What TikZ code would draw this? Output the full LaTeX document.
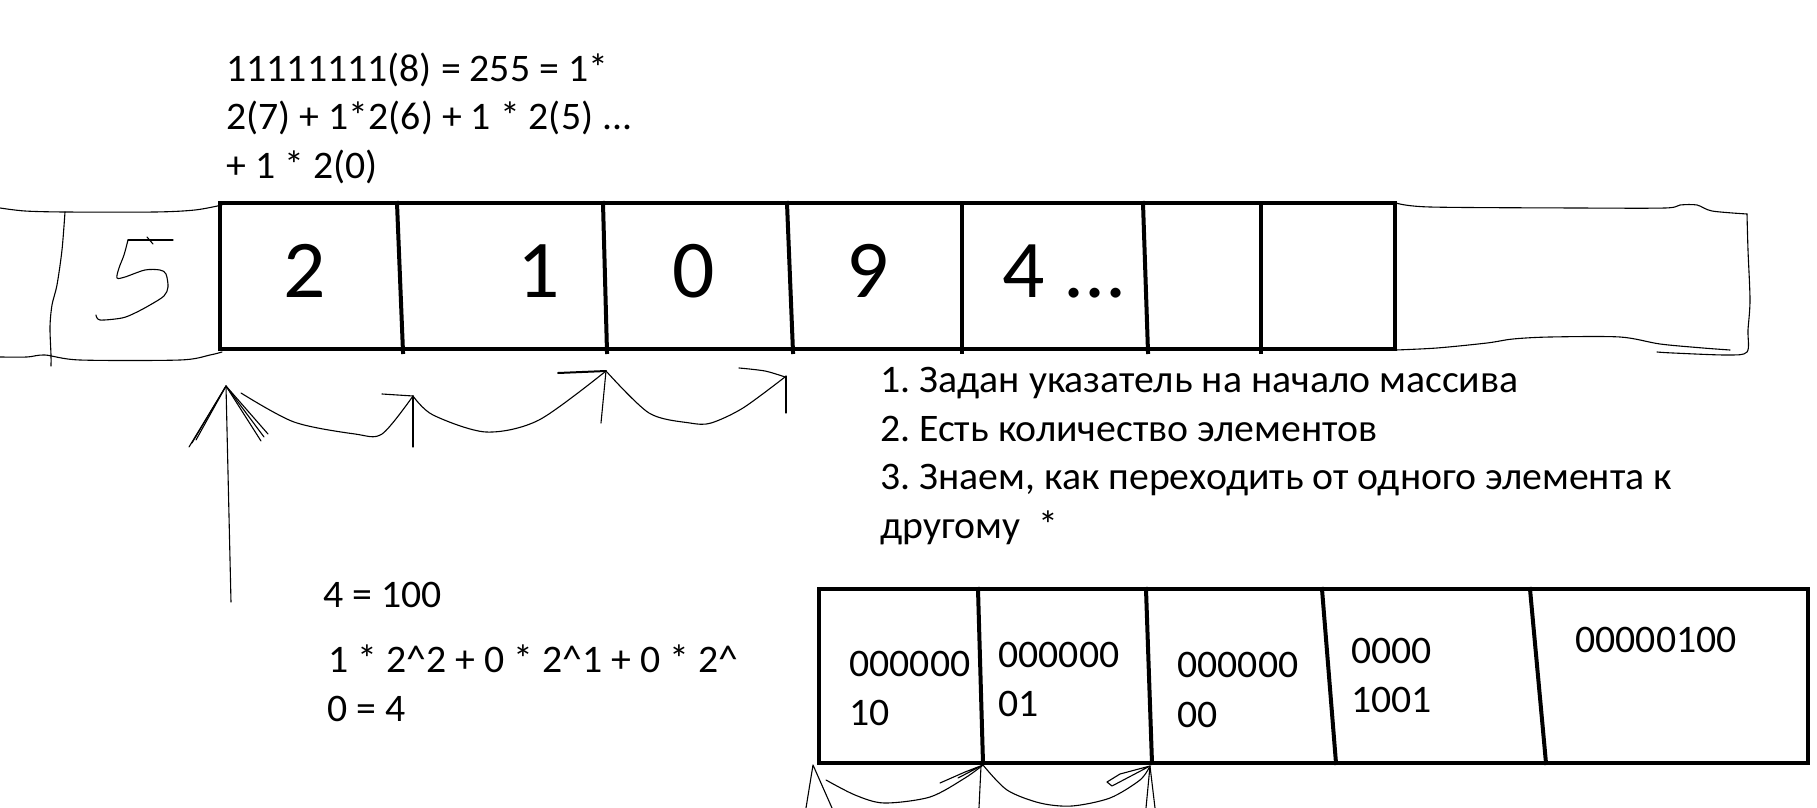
\documentclass[tikz,border=0pt]{standalone}
\usepackage{fontspec}
\setmainfont{Carlito}[FakeStretch=1.02]
\frenchspacing
\begin{document}
\begin{tikzpicture}[
		x=0.5pt, y=-0.5pt,
		cellbox/.style={line width=2pt, line cap=rect},
		pen/.style={line width=0.55pt, line join=round, line cap=round},
		txt/.style={anchor=base west, inner sep=0pt, font=\fontsize{19.5}{24}\selectfont},
		digit/.style={anchor=base, inner sep=0pt, font=\fontsize{41}{41}\selectfont}
	]
  \useasboundingbox (0,0) rectangle (1817,808);
  % hand drawn tube round the array
  \draw[pen] plot[smooth] coordinates {(0,208) (25,211) (65,212) (155,212) (195,210) (222,205)};
  \draw[pen] plot[smooth] coordinates {(0,357) (27,357) (45,355) (80,360) (180,360) (210,355) (222,352)};
  \draw[pen] plot[smooth] coordinates {(65,212) (62,250) (57,285) (52,305) (50,327) (51,355) (51,366)};
  \draw[pen] plot[smooth] coordinates {(1396,203) (1430,207) (1577,208) (1665,208) (1680,205) (1697,205) (1712,211) (1747,214)};
  \draw[pen] plot[smooth] coordinates {(1747,214) (1748,250) (1750,300) (1748,330) (1747,352) (1727,355) (1673,353) (1657,352)};
  \draw[pen] plot[smooth] coordinates {(1396,350) (1437,348) (1487,343) (1513,339) (1550,337) (1620,337) (1660,344) (1703,348) (1730,350)};
  % the hand drawn five
  \draw[pen] (128,240) -- (173,240);
  \draw[pen] (147,237) -- (153,244);
  \draw[pen] plot[smooth] coordinates {(128,240) (124,255) (119,268) (117,278) (125,277) (145,270) (160,270) (166,274) (168,287) (164,296) (150,305) (135,313) (122,318) (100,320) (96,315)};

  % top array
  \draw[cellbox] (220,203) rectangle (1395,349);
  \foreach \t/\b in {397/403, 603/607, 787/793, 962/962, 1143/1148, 1261/1261}
    \draw[cellbox] (\t,203) -- (\b,352);
  \node (d_two) [digit] at (305,297) {2};
  \node (d_one) [digit] at (539,297) {1};
  \node (d_zero) [digit] at (694,297) {0};
  \node (d_nine) [digit] at (868,297) {9};
  \node (d_four) [digit, anchor=base west] at (1002,297) {4 ...};

  % pointer and steps
  \coordinate (p_tip) at (226,386);
  \coordinate (p_tail) at (231,602);
  \coordinate (s_one) at (413,396);
  \coordinate (s_two) at (606,371);
  \coordinate (s_three) at (785,377);
  \draw[pen] (p_tip) -- (p_tail);
  \foreach \lx/\ly/\rx/\ry in {192/443/264/437, 196/440/268/434, 189/447/261/441}
    \draw[pen] (\lx,\ly) -- (p_tip) -- (\rx,\ry);
  \draw[pen] plot[smooth] coordinates {(241,393) (294,422) (355,434) (382,434) (s_one)};
  \draw[pen] (s_one) -- (413,447);
  \draw[pen] (382,394) -- (s_one);
  \draw[pen] plot[smooth] coordinates {(s_one) (433,415) (486,432) (539,420) (s_two)};
  \draw[pen] (s_two) -- (601,423);
  \draw[pen, line width=1pt] (558,373) -- (s_two);
  \draw[pen] plot[smooth] coordinates {(s_two) (649,413) (690,423) (711,423) (743,408) (s_three)};
  \draw[pen] (786,376) -- (786,413);
  \draw[pen] plot[smooth] coordinates {(739,368) (765,371) (s_three)};

  % notes
  \node (sum_a) [txt] at (226,82) {11111111(8) = 255 = 1*};
  \node (sum_b) [txt] at (226,130) {2(7) + 1*2(6) + 1 * 2(5) ...};
  \node (sum_c) [txt] at (226,178) {+ 1 * 2(0)};
  \node (rule_a) [txt] at (880,392) {1. Задан указатель на начало массива};
  \node (rule_b) [txt] at (880,441) {2. Есть количество элементов};
  \node (rule_c) [txt] at (880,489) {3. Знаем, как переходить от одного элемента к};
  \node (rule_d) [txt] at (880,538) {другому~~*};
  \node (bin_a) [txt] at (323,607) {4 = 100};
  \node (bin_b) [txt] at (328,672) {1 * 2\^{}2 + 0 * 2\^{}1 + 0 * 2\^{}};
  \node (bin_c) [txt] at (327,721) {0 = 4};

  % bytes array
  \draw[cellbox] (819,589) rectangle (1808,763);
  \foreach \t/\b in {978/983, 1146/1152, 1322/1336, 1530/1546}
    \draw[cellbox] (\t,589) -- (\b,763);
  \node (b_one) [txt] at (849,676) {000000};
  \node (b_one_lo) [txt] at (849,725) {10};
  \node (b_two) [txt] at (998,667) {000000};
  \node (b_two_lo) [txt] at (998,716) {01};
  \node (b_three) [txt] at (1177,677) {000000};
  \node (b_three_lo) [txt] at (1177,727) {00};
  \node (b_four) [txt] at (1351,663) {0000};
  \node (b_four_lo) [txt] at (1351,712) {1001};
  \node (b_five) [txt] at (1575,652) {00000100};

  % steps under the bytes
  \coordinate (q_start) at (813,765);
  \coordinate (q_one) at (983,765);
  \coordinate (q_two) at (1150,766);
  \draw[pen] (806,808) -- (q_start) -- (832,808);
  \draw[pen] plot[smooth] coordinates {(826,780) (855,795) (884,803) (930,797) (965,778) (q_one)};
  \draw[pen] (981,766) -- (979,808);
  \draw[pen] (940,783) -- (965,772) -- (q_one) -- (958,778);
  \draw[pen] plot[smooth] coordinates {(q_one) (1007,790) (1040,803) (1072,806) (1110,798) (1140,780) (q_two)};
  \draw[pen] (1146,808) -- (q_two) -- (1155,808);
  \draw[pen] (1107,782) -- (1120,774) -- (q_two) -- (1112,786) -- cycle;
\end{tikzpicture}
\end{document}
